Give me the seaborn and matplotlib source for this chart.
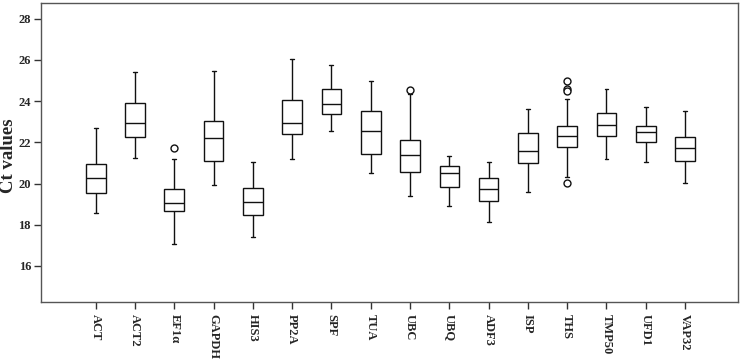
import seaborn as sns
import matplotlib.pyplot as plt
import pandas as pd

# genes on the x axis
genes = ['ACT', 'ACT2', 'EF1\u03b1', 'GAPDH', 'HIS3', 'PP2A', 'SPF', 'TUA',
         'UBC', 'UBQ', 'ADF3', 'ISP', 'THS', 'TMP50', 'UFD1', 'VAP32']

# five-number summaries
whisker_low = [18.55, 21.26, 17.06, 19.95, 17.40, 21.18, 22.55, 20.50,
               19.40, 18.90, 18.15, 19.60, 20.32, 21.19, 21.03, 20.03]
q1 = [19.53, 22.27, 18.65, 21.11, 18.48, 22.39, 23.40, 21.45,
      20.55, 19.82, 19.16, 21.00, 21.77, 22.31, 22.03, 21.10]
median = [20.29, 22.94, 19.08, 22.23, 19.10, 22.92, 23.87, 22.55,
          21.40, 20.52, 19.74, 21.58, 22.31, 22.85, 22.52, 21.73]
q3 = [20.95, 23.89, 19.73, 23.06, 19.77, 24.08, 24.61, 23.52,
      22.11, 20.87, 20.26, 22.44, 22.81, 23.42, 22.79, 22.27]
whisker_high = [22.69, 25.42, 21.21, 25.45, 21.03, 26.03, 25.76, 24.97,
                24.35, 21.35, 21.06, 23.60, 24.11, 24.58, 23.71, 23.50]

# outliers
outlier_gene = ['EF1\u03b1', 'UBC', 'THS', 'THS', 'THS', 'THS']
outlier_ct = [21.72, 24.53, 24.97, 24.60, 24.50, 20.03]

# each box built from its five numbers; whiskers run to min/max
rows = []
for i, g in enumerate(genes):
    for v in (whisker_low[i], q1[i], median[i], q3[i], whisker_high[i]):
        rows.append({'gene': g, 'ct': v})
box_df = pd.DataFrame(rows)
out_df = pd.DataFrame({'gene': outlier_gene, 'ct': outlier_ct})

sns.set_style('ticks')
plt.rcParams['font.family'] = ['Liberation Serif', 'DejaVu Serif']

fig = plt.figure(figsize=(7.43, 3.6), dpi=100)
ax = fig.add_axes([0.0548, 0.1611, 0.9381, 0.8297])

sns.boxplot(data=box_df, x='gene', y='ct', order=genes, whis=(0, 100),
            width=0.5, color='white', linecolor='#111111', linewidth=1,
            showfliers=False, capwidths=0.1, ax=ax)
sns.stripplot(data=out_df, x='gene', y='ct', order=genes, size=5, jitter=False,
              color='white', edgecolor='#111111', linewidth=1, ax=ax)

ax.set_ylim(14.25, 28.75)
ax.set_xlim(-1.4, 16.34)
ax.set_yticks([16, 18, 20, 22, 24, 26, 28])
ax.set_xlabel('')
ax.set_ylabel('Ct values', fontsize=13.5, fontweight='bold')
ax.yaxis.set_label_coords(-0.034, 0.49)
ax.tick_params(axis='y', labelsize=9, length=5, width=1, pad=2, color='#333333')
ax.tick_params(axis='x', labelsize=9, length=5, width=1, color='#333333')
for lab in ax.get_yticklabels():
    lab.set_fontweight('bold')
for lab in ax.get_xticklabels():
    lab.set_fontweight('bold')
    lab.set_rotation(-90)
    lab.set_va('top')
    lab.set_ha('center')
for s in ax.spines.values():
    s.set_visible(True)
    s.set_color('#555555')
    s.set_linewidth(1)

fig.savefig('out.png', dpi=100)
